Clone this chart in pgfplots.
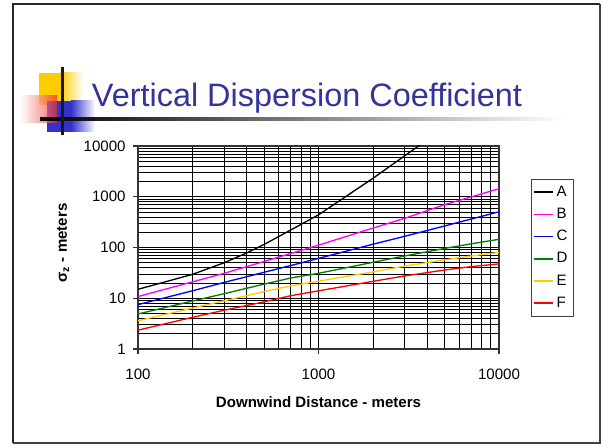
\documentclass[border=0pt]{standalone}
\usepackage{fontspec}
\setmainfont{Liberation Sans}
\usepackage{pgfplots}
\pgfplotsset{compat=1.18}
\definecolor{titleblue}{RGB}{51,51,153}
\definecolor{sqyellow}{RGB}{255,204,0}
\definecolor{sqblue}{RGB}{51,51,204}
\definecolor{sqred}{RGB}{240,40,40}
\definecolor{curveA}{RGB}{0,0,0}
\definecolor{curveB}{RGB}{255,0,255}
\definecolor{curveC}{RGB}{0,0,255}
\definecolor{curveD}{RGB}{0,128,0}
\definecolor{curveE}{RGB}{255,204,0}
\definecolor{curveF}{RGB}{255,0,0}
\begin{document}
\begin{tikzpicture}[x=0.75pt,y=0.75pt]
\path[use as bounding box] (0,0) rectangle (602,445);
\begin{scope}[yshift=333.75pt,y=-0.75pt]
  % slide frame
  \draw[black!85,line width=1.1pt] (13,443) -- (13,4) -- (600,4);
  \draw[black!75,line width=0.9pt] (13,443) -- (600,443) -- (600,4);
  % title decoration
  \fill[sqyellow] (39,73) rectangle (60,105);
  \shade[left color=sqyellow,right color=white] (60,73) rectangle (83,105);
  \fill[sqblue] (47,101) rectangle (71,132);
  \shade[left color=sqblue,right color=white] (71,101) rectangle (95,132);
  \shade[left color=white,right color=sqred,opacity=0.7] (20,96) rectangle (57,123);
  \shade[left color=black,right color=white] (40,118) rectangle (565,120.5);
  \fill[black!90] (61,67) rectangle (63.5,135);
  \node[anchor=base west,inner sep=0pt,text=titleblue] at (91.7,107)
    {\resizebox{322.5pt}{!}{\fontsize{23.5}{28}\selectfont Vertical Dispersion Coefficient}};
\end{scope}
\begin{axis}[
  at={(103.5pt,72pt)}, anchor=south west,
  scale only axis, width=270.75pt, height=152.25pt,
  xmode=log, ymode=log,
  xmin=100, xmax=10000, ymin=1, ymax=10000,
  xtick={100,1000,10000}, xticklabels={100,1000,10000},
  ytick={1,10,100,1000,10000}, yticklabels={1,10,100,1000,10000},
  grid=both,
  major grid style={black,line width=0.5pt},
  minor grid style={black,line width=0.5pt},
  tick align=outside, tick pos=left,
  major tick length=3.75pt, minor tick length=0pt,
  axis line style={black!80,line width=0.8pt},
  tick style={black!80,line width=0.8pt},
  ticklabel style={font=\fontsize{11.3}{13}\selectfont},
  yticklabel style={anchor=east,xshift=-2pt},
  xticklabel style={anchor=north,yshift=-8pt},
  xlabel={\textbf{Downwind Distance - meters}},
  ylabel={\textbf{σ\textsubscript{z} - meters}},
  label style={font=\fontsize{11.3}{13}\selectfont},
  xlabel style={at={(axis description cs:0.5,-0.2906)},anchor=base},
  ylabel style={at={(axis description cs:-0.2078,0.522)},anchor=center},
  legend style={at={(1.0878,0.838)},anchor=north west,draw=black!75,
    font=\fontsize{11.3}{13}\selectfont,row sep=3.3pt,inner xsep=2pt,inner ysep=3.2pt},
  legend cell align=left,
  legend image code/.code={\draw[#1,line width=1.2pt] (0pt,0pt) -- (14pt,0pt);},
  every axis plot/.append style={line width=1pt},
]
\addplot[curveA] coordinates {(100,15) (200,29.5) (300,50) (400,78) (500,115) (700,220) (1000,440) (2000,2300) (3000,6400) (4000,13200)};
\addlegendentry{A}
\addplot[curveB] coordinates {(100,10.8) (200,21) (300,31) (500,53) (700,76) (1000,111) (2000,241) (3000,375) (5000,700) (7000,990) (10000,1440)};
\addlegendentry{B}
\addplot[curveC] coordinates {(100,7.5) (200,14) (300,20.5) (500,32.5) (700,44) (1000,61) (2000,116) (3000,166) (5000,266) (7000,363) (10000,505)};
\addlegendentry{C}
\addplot[curveD] coordinates {(100,4.9) (200,8.8) (300,12.3) (500,19) (700,25) (1000,31) (2000,51) (3000,68) (5000,96) (7000,118) (10000,145)};
\addlegendentry{D}
\addplot[curveE] coordinates {(100,3.6) (200,6.4) (300,8.9) (500,13.5) (700,17.5) (1000,21.7) (2000,33) (3000,43) (5000,57) (7000,68) (10000,80)};
\addlegendentry{E}
\addplot[curveF] coordinates {(100,2.35) (200,4.2) (300,5.8) (500,8.5) (700,11.2) (1000,14) (2000,21.5) (3000,27.5) (5000,36) (7000,42) (10000,47.5)};
\addlegendentry{F}
\end{axis}
\end{tikzpicture}
\end{document}
